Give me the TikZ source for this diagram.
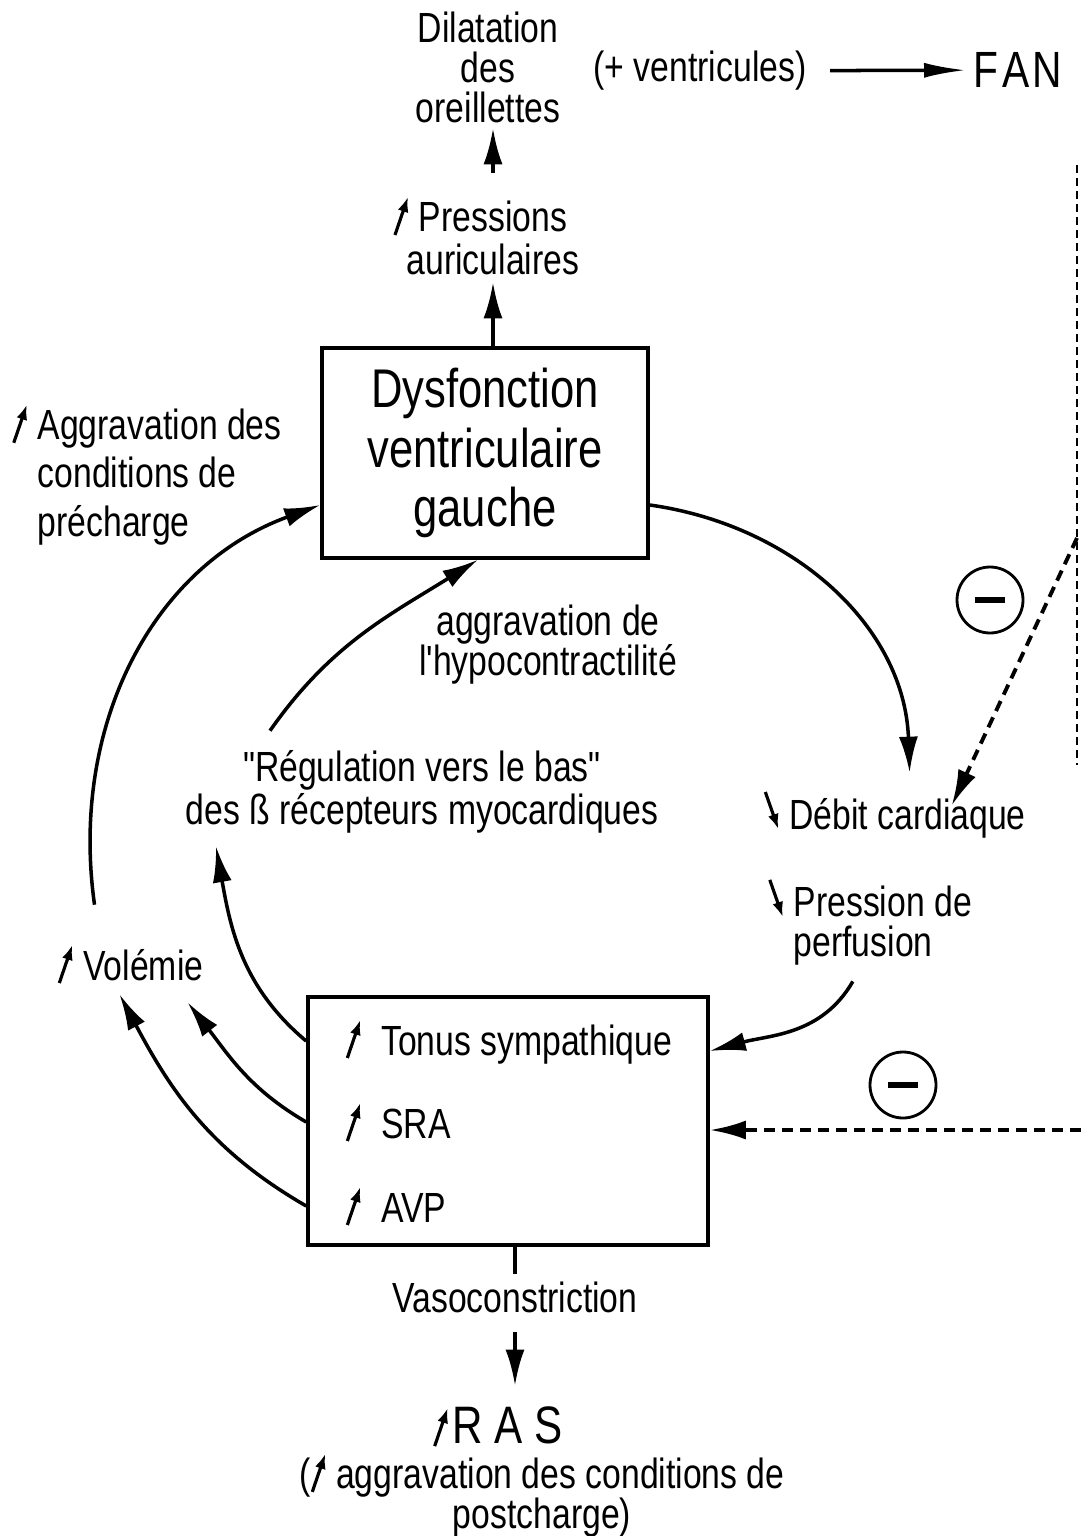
\documentclass[tikz,border=0pt]{standalone}
\usepackage{fontspec}
\setmainfont{Liberation Sans}[FakeStretch=0.8, Ligatures=TeXOff]
\usepackage{tikz}
\usetikzlibrary{
  arrows.meta,
  positioning,
  calc
}

% small slanted arrows used inside the texts
\newcommand{\hausse}{\tikz[baseline=0.3mm]\draw[line width=0.9pt,-{Latex[length=1.5mm,width=1.1mm]}] (0,0) -- (0.13,0.38);}
\newcommand{\baisse}{\tikz[baseline=0mm]\draw[line width=0.9pt,-{Latex[length=1.5mm,width=1.1mm]}] (0,0.37) -- (0.13,0);}

\begin{document}
\begin{tikzpicture}[
  every node/.style={font=\fontsize{12}{11.4}\selectfont, inner sep=2pt},
  box/.style={rectangle, draw, line width=1pt},
  big/.style={font=\fontsize{15.5}{17}\selectfont},
  fl/.style={-{Latex[length=3.6mm,width=1.9mm]}, line width=1pt},
  inh/.style={-{Latex[length=3.6mm,width=1.9mm]}, line width=1.1pt, dash pattern=on 1.1mm off 0.7mm},
  moins/.style={circle, draw, line width=0.8pt, minimum size=6.6mm, inner sep=0pt}
]
  \useasboundingbox (0,0) rectangle (10.81,-15.36);

  % top row
  \node[align=center] (dil) at (4.88,-0.67) {Dilatation\\des\\oreillettes};
  \node (vent) at (7.0,-0.71) {(+ ventricules)};
  \node[anchor=west, font=\fontsize{14.5}{16}\selectfont] (fan) at (9.66,-0.70) {F\kern1pt A\kern1pt N};
  \node[align=center, font=\fontsize{12}{12}\selectfont] (pres) at (4.93,-2.35) {\llap{\hausse\ }Pressions\\auriculaires};

  % central box
  \node[box, big, minimum width=3.26cm, minimum height=2.1cm, align=center] (dys) at (4.85,-4.53)
    {Dysfonction\\ventriculaire\\gauche};

  % labels round the loop
  \node[anchor=west, align=left, font=\fontsize{12}{13.7}\selectfont] (prech) at (0.30,-4.74)
    {\llap{\hausse\ }Aggravation des\\conditions de\\précharge};
  \node[align=center] (hypo) at (5.48,-6.45) {aggravation de\\l'hypocontractilité};
  \node[align=center, font=\fontsize{12}{10.8}\selectfont] (regul) at (4.22,-7.92)
    {"Régulation vers le bas"\\des ß récepteurs myocardiques};
  \node[anchor=base west] (debit) at (7.56,-8.29) {\baisse\ Débit cardiaque};
  \node[anchor=west, align=left] (perf) at (7.86,-9.22) {\llap{\baisse\ }Pression de\\perfusion};
  \node[anchor=base west] (vol) at (0.50,-9.80) {\hausse\ Volémie};

  % neurohormonal box
  \node[box, minimum width=4.0cm, minimum height=2.48cm] (sys) at (5.08,-11.21) {};
  \node[anchor=base west] (tonus) at (3.38,-10.55) {\hausse\hspace{5.5pt}Tonus sympathique};
  \node[anchor=base west] (sra) at (3.38,-11.38) {\hausse\hspace{5.5pt}SRA};
  \node[anchor=base west] (avp) at (3.38,-12.22) {\hausse\hspace{5.5pt}AVP};

  % bottom
  \node (vaso) at (5.15,-12.97) {Vasoconstriction};
  \node[font=\fontsize{15}{17}\selectfont] (ras) at (4.98,-14.27) {\hausse\kern1pt R A S};
  \node[align=center] (post) at (5.42,-14.95) {(\hausse\ aggravation des conditions de\\postcharge)};

  % minus signs
  \node[moins] (m1) at (9.9,-6.0) {\rule{3mm}{0.55mm}};
  \node[moins] (m2) at (9.03,-10.85) {\rule{3mm}{0.55mm}};

  % straight arrows
  \draw[-{Latex[length=4.2mm,width=1.5mm]}, line width=1pt, shorten <=1.6mm] (vent) -- (fan);
  \draw[fl] ([yshift=1.5mm]pres.north) -- ([yshift=0.2mm]pres.north |- dil.south);
  \draw[fl] (pres.south |- dys.north) -- (pres.south);
  \draw[line width=1pt] (vaso.north |- sys.south) -- (vaso.north);
  \draw[fl, shorten <=1.2mm] (vaso.south) -- ([yshift=1.3mm]vaso.south |- ras.north);

  % the loop
  \draw[fl] ([yshift=-5.2mm]dys.east) to[out=-8, in=92] ($(debit.north)+(0.15,0.1)$);
  \draw[fl] ($(perf.south)+(-0.3,-0.08)$) to[out=-120, in=15] ([yshift=7mm]sys.east);
  \draw[fl] ($(vol.north)+(-0.36,0.31)$) to[out=98, in=200] ([yshift=-5.2mm]dys.west);
  \draw[fl] ($(regul.north)+(-1.52,0.12)$) to[out=55, in=212] ([xshift=-0.7mm]dys.south);
  \draw[fl] (sys.west |- tonus) to[out=140, in=-80] ($(regul.south west)+(0.38,-0.05)$);
  \draw[fl] (sys.west |- sra) to[out=150, in=-52] ($(vol.south)+(0.57,-0.1)$);
  \draw[fl] (sys.west |- avp) to[out=150, in=-62] ($(vol.south)+(-0.11,-0.02)$);

  % inhibitions (dashed)
  \coordinate (hautd) at (10.77,-1.65);
  \coordinate (basd) at (10.77,-7.65);
  \coordinate (branche) at (10.77,-5.38);
  \coordinate (bord) at (10.81,-11.30);
  \draw[line width=0.4pt, dash pattern=on 0.8mm off 0.5mm] (hautd) -- (basd);
  \draw[inh] (branche) -- ($(debit.north)+(0.57,-0.23)$);
  \draw[inh] (bord) -- (bord -| sys.east);

\end{tikzpicture}
\end{document}
